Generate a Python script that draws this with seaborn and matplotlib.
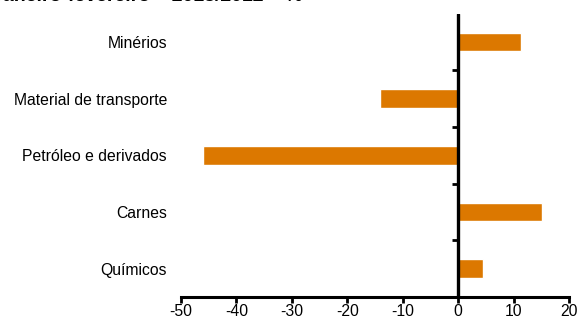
import pandas as pd
import seaborn as sns
import matplotlib.pyplot as plt

# donnees
categorias = ["Minérios", "Material de transporte", "Petróleo e derivados", "Carnes", "Químicos"]
variacao = [11.4, -14.1, -46.0, 15.2, 4.5]
xticks = [-50, -40, -30, -20, -10, 0, 10, 20]
titulo = "Janeiro-fevereiro – 2013/2012 – %"

df = pd.DataFrame({"categoria": categorias, "variacao": variacao})

sns.set_style("white")
plt.rcParams["font.family"] = ["Liberation Sans", "DejaVu Sans"]
plt.rcParams["text.color"] = "black"
plt.rcParams["xtick.color"] = "black"
plt.rcParams["ytick.color"] = "black"

fig = plt.figure(figsize=(5.79, 3.22), dpi=100)
ax = fig.add_axes([0.3126, 0.0776, 0.6701, 0.8804])

sns.barplot(data=df, x="variacao", y="categoria", color="#DC7800", width=0.33,
            saturation=1, ax=ax)

ax.set_xlim(-50, 20)
ax.set_ylim(4.5, -0.5)
ax.set_xticks(xticks)
ax.set_xticklabels([str(t) for t in xticks], fontsize=11.3)
ax.set_xlabel("")
ax.set_ylabel("")
ax.tick_params(axis="x", length=4, width=2, colors="black", pad=1, direction="out", bottom=True)
ax.tick_params(axis="y", length=0, pad=10, labelsize=11.3, colors="black")

for s in ["top", "right", "left"]:
    ax.spines[s].set_visible(False)
ax.spines["bottom"].set_linewidth(2.2)
ax.spines["bottom"].set_color("black")

# ligne verticale au zero
ax.axvline(0, color="black", lw=2.4, zorder=5)

# petits traits entre categories, vers la gauche
sec = ax.secondary_yaxis(50 / 70)
sec.set_yticks([0.5, 1.5, 2.5, 3.5])
sec.set_yticklabels([])
sec.tick_params(axis="y", length=4, width=2, color="black", direction="out",
                left=True, right=False)
for s in sec.spines.values():
    s.set_linewidth(0)

fig.text(-0.014, 1 - 1 / 322, titulo, fontsize=14, fontweight="bold", va="baseline", ha="left")

fig.savefig("out.png", dpi=100)
